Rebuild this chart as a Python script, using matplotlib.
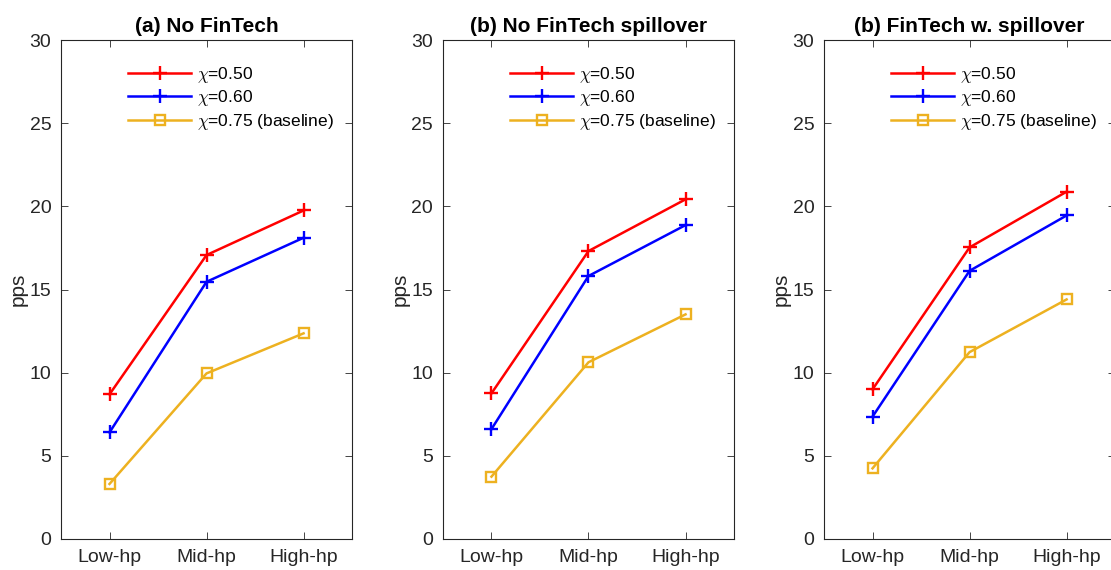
import matplotlib.pyplot as plt
import numpy as np

plt.rcParams['font.family'] = ['Liberation Sans', 'DejaVu Sans']
plt.rcParams['mathtext.fontset'] = 'cm'

categories = ['Low-hp', 'Mid-hp', 'High-hp']
titles = ['(a) No FinTech', '(b) No FinTech spillover', '(b) FinTech w. spillover']
labels = [r'$\chi$=0.50', r'$\chi$=0.60', r'$\chi$=0.75 (baseline)']

# pps by panel, one row per chi value
no_fintech = [
    [8.70, 17.08, 19.76],
    [6.41, 15.47, 18.12],
    [3.31, 9.96, 12.37],
]
no_spillover = [
    [8.76, 17.32, 20.43],
    [6.61, 15.82, 18.88],
    [3.75, 10.63, 13.51],
]
w_spillover = [
    [9.00, 17.54, 20.89],
    [7.36, 16.13, 19.46],
    [4.25, 11.24, 14.41],
]
panels = [no_fintech, no_spillover, w_spillover]

colors = ['#FF0000', '#0000FF', '#EDB120']
markers = ['+', '+', 's']

fig = plt.figure(figsize=(11.11, 5.70), dpi=100)
lefts = [0.0549, 0.3987, 0.7417]
x = np.arange(1, len(categories) + 1)

for left, title, data in zip(lefts, titles, panels):
    ax = fig.add_axes([left, 0.0544, 0.262, 0.875])
    for vals, c, m, lab in zip(data, colors, markers, labels):
        ms = 10 if m == '+' else 7
        ax.plot(x, vals, color=c, marker=m, markersize=ms, markeredgewidth=1.7,
                fillstyle='none', linewidth=1.8, label=lab)
    ax.set_xlim(0.5, 3.5)
    ax.set_ylim(0, 30)
    ax.set_xticks(x)
    ax.set_xticklabels(categories)
    ax.set_yticks(np.arange(0, 31, 5))
    ax.tick_params(direction='in', top=True, right=True, labelsize=14,
                   length=5, width=0.6, color='#262626', labelcolor='#262626', pad=7)
    for s in ax.spines.values():
        s.set_linewidth(0.8)
        s.set_color('#262626')
    ax.set_ylabel('pps', fontsize=15, color='#262626', labelpad=1)
    ax.set_title(title, fontsize=15, fontweight='bold', pad=6)
    ax.legend(loc='upper left', bbox_to_anchor=(0.19, 0.975), frameon=False,
              fontsize=12.5, handlelength=3.6, handletextpad=0.35,
              labelspacing=0.2, borderaxespad=0.3)

fig.savefig('out.png', dpi=100)
